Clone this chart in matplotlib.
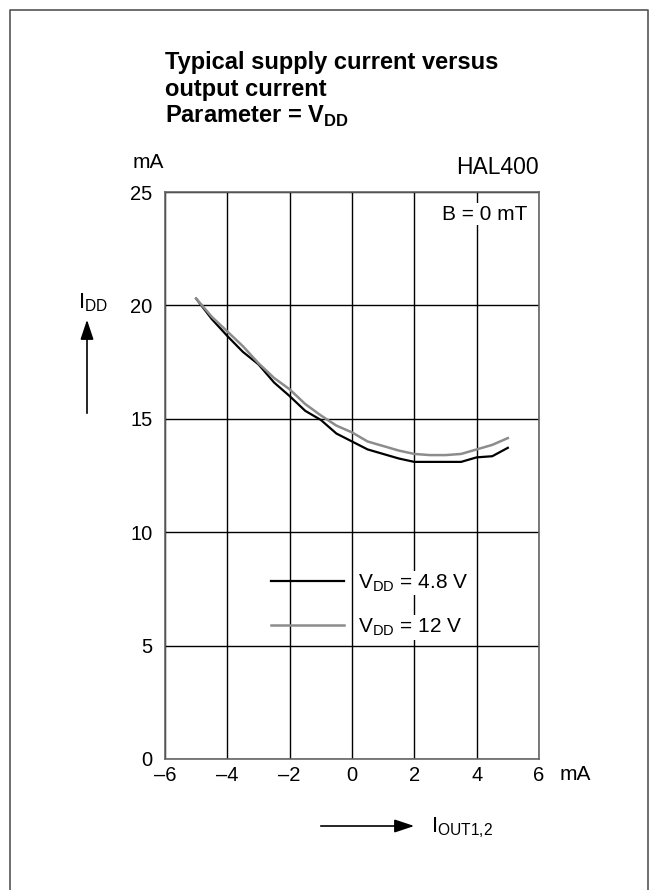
#!/usr/bin/env python3
"""HAL400: typical supply current vs output current, parameter V_DD."""
import matplotlib

matplotlib.use("Agg")
import matplotlib.pyplot as plt
from matplotlib.lines import Line2D
from matplotlib.patches import FancyArrowPatch

W, H = 658, 890

# I_OUT1,2 in mA
i_out = [-5.0, -4.5, -4.0, -3.5, -3.0, -2.5, -2.0, -1.5, -1.0, -0.5, 0.0,
         0.5, 1.0, 1.5, 2.0, 2.5, 3.0, 3.5, 4.0, 4.5, 5.0]
# I_DD in mA
idd_4v8 = [20.3, 19.4, 18.65, 17.95, 17.4, 16.6, 16.0, 15.35, 14.95, 14.35, 14.0,
           13.65, 13.45, 13.25, 13.1, 13.1, 13.1, 13.1, 13.3, 13.35, 13.72]
idd_12v = [20.3, 19.5, 18.85, 18.2, 17.45, 16.8, 16.3, 15.65, 15.15, 14.7, 14.4,
           14.0, 13.8, 13.6, 13.45, 13.4, 13.4, 13.45, 13.65, 13.85, 14.15]

x_ticks = [-6, -4, -2, 0, 2, 4, 6]
x_labels = ["\u20136", "\u20134", "\u20132", "0", "2", "4", "6"]
y_ticks = [0, 5, 10, 15, 20, 25]

plt.rcParams.update({
    "font.family": ["Liberation Sans", "DejaVu Sans"],
    "font.size": 15,
    "mathtext.fontset": "custom",
    "mathtext.rm": "Liberation Sans",
    "mathtext.bf": "Liberation Sans:bold",
})


def fx(px):
    return px / W


def fy(py):
    return 1 - py / H


fig = plt.figure(figsize=(W / 100, H / 100), dpi=100)

# outer frame (open at the bottom)
fig.add_artist(Line2D([fx(10), fx(10), fx(648), fx(648)],
                      [0, fy(10), fy(10), 0], color="#555555", lw=1.2))

ax = fig.add_axes([fx(165), fy(759), fx(539) - fx(165), fy(192) - fy(759)])
ax.plot(i_out, idd_4v8, color="black", lw=1.6, label=r"V$_\mathrm{DD}$ = 4.8 V")
ax.plot(i_out, idd_12v, color="#8c8c8c", lw=1.8, label=r"V$_\mathrm{DD}$ = 12 V")
ax.set_xlim(-6, 6)
ax.set_ylim(0, 25)
ax.set_xticks(x_ticks, x_labels)
ax.set_yticks(y_ticks)
ax.tick_params(length=0, labelsize=14.5)
ax.tick_params(axis="x", pad=5)
ax.tick_params(axis="y", pad=9)
ax.grid(True, color="black", lw=1.0)
for sp in ax.spines.values():
    sp.set_color("#666666")
    sp.set_linewidth(1.2)

leg = ax.legend(loc="upper left", bbox_to_anchor=(fx(271), fy(572)),
                bbox_transform=fig.transFigure, frameon=False, fontsize=15,
                handlelength=3.5, handletextpad=0.7, labelspacing=1.1,
                borderpad=0, borderaxespad=0)
for t in leg.get_texts():
    t.set_bbox(dict(facecolor="white", edgecolor="none", pad=1))

fig.text(fx(442), fy(214), "B = 0 mT", ha="left", va="center", fontsize=15,
         bbox=dict(facecolor="white", edgecolor="none", pad=1))

# title
title = ["Typical supply current versus", "output current",
         r"Parameter = V$_\mathbf{DD}$"]
for k, line in enumerate(title):
    fig.text(fx(165), fy(69 + 27 * k), line, fontsize=17, fontweight="bold",
             ha="left", va="baseline")

fig.text(fx(164), fy(162), "mA", ha="right", va="center", fontsize=15)
fig.text(fx(539), fy(167), "HAL400", ha="right", va="center", fontsize=16.5)
fig.text(fx(560), fy(775), "mA", ha="left", va="center", fontsize=15)

# y-axis arrow and label
fig.add_artist(FancyArrowPatch((fx(87), fy(416)), (fx(87), fy(317)),
                               transform=fig.transFigure,
                               arrowstyle="-|>,head_length=0.6,head_width=0.2",
                               mutation_scale=20, color="black", lw=1.2))
fig.text(fx(78), fy(303), r"I$_\mathrm{DD}$", ha="left", va="center", fontsize=16)

# x-axis arrow and label
fig.add_artist(FancyArrowPatch((fx(318), fy(826)), (fx(417), fy(826)),
                               transform=fig.transFigure,
                               arrowstyle="-|>,head_length=0.6,head_width=0.2",
                               mutation_scale=20, color="black", lw=1.2))
fig.text(fx(431), fy(828), r"I$_\mathrm{OUT1{,}2}$", ha="left", va="center", fontsize=16)

fig.savefig("out.png", dpi=100)
